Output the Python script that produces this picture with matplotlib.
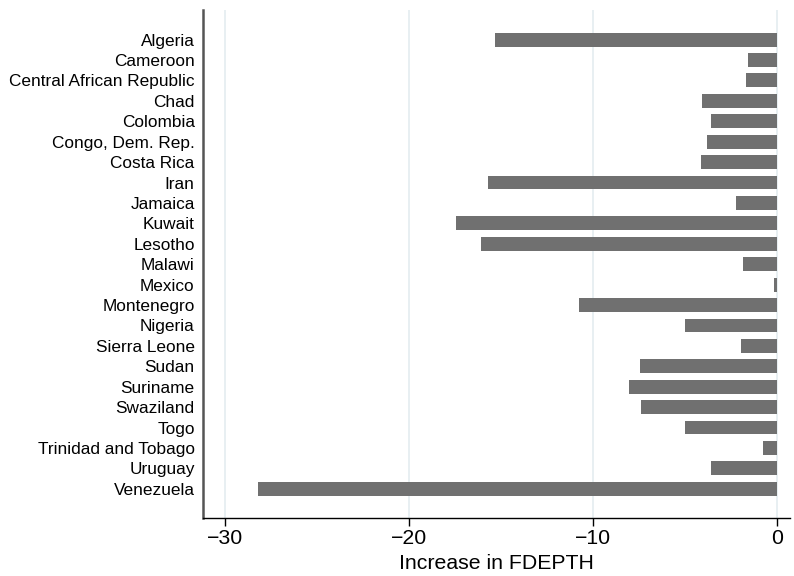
import matplotlib
matplotlib.use("Agg")
import matplotlib.pyplot as plt

countries = ["Algeria", "Cameroon", "Central African Republic", "Chad", "Colombia",
             "Congo, Dem. Rep.", "Costa Rica", "Iran", "Jamaica", "Kuwait", "Lesotho",
             "Malawi", "Mexico", "Montenegro", "Nigeria", "Sierra Leone", "Sudan",
             "Suriname", "Swaziland", "Togo", "Trinidad and Tobago", "Uruguay", "Venezuela"]
values = [-15.35, -1.56, -1.67, -4.10, -3.62, -3.82, -4.12, -15.72, -2.21, -17.43, -16.11,
          -1.88, -0.19, -10.75, -5.02, -1.99, -7.44, -8.07, -7.42, -5.02, -0.79, -3.62, -28.19]
xticks = [-30, -20, -10, 0]
xticklabels = ["\u221230", "\u221220", "\u221210", "0"]

plt.rcParams['font.family'] = ['Liberation Sans', 'DejaVu Sans']

fig = plt.figure(figsize=(7.94, 5.76), dpi=100)
ax = fig.add_axes([203/794, 58/576, (790-203)/794, (518-10)/576])

ypos = list(range(len(countries)))
ax.barh(ypos, values, height=0.68, color="#707070", zorder=3)

ax.set_ylim(len(countries) - 1 + 1.43, -1.45)
ax.set_xlim(-31.2, 0.7)
ax.set_yticks(ypos)
ax.set_yticklabels(countries, fontsize=12.4)
ax.tick_params(axis='y', length=0, pad=6)
ax.set_xticks(xticks)
ax.set_xticklabels(xticklabels, fontsize=15.3)
ax.tick_params(axis='x', length=6, width=1, color="black", pad=2)

ax.grid(axis='x', color="#e4ecf0", linewidth=1.2, zorder=0)
ax.grid(axis='y', visible=False)

for s in ["top", "right"]:
    ax.spines[s].set_visible(False)
ax.spines["left"].set_color("#555555")
ax.spines["left"].set_linewidth(1.8)
ax.spines["bottom"].set_color("black")
ax.spines["bottom"].set_linewidth(1.0)

ax.set_xlabel("Increase in FDEPTH", fontsize=15.3, labelpad=4)

fig.savefig("out.png", dpi=100, facecolor="white")
